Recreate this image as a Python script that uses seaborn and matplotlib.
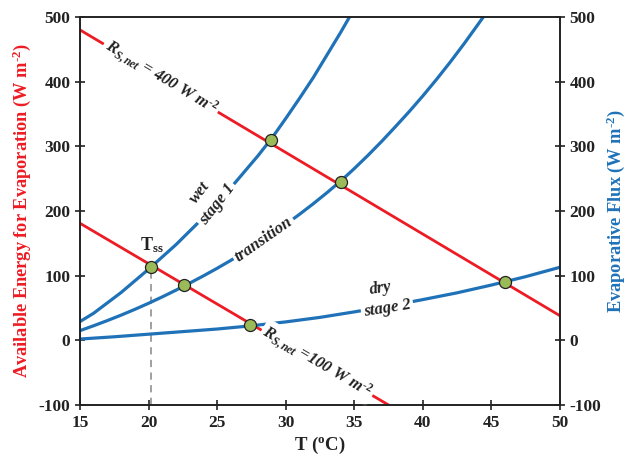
import numpy as np
import pandas as pd
import matplotlib
matplotlib.use("Agg")
import matplotlib.pyplot as plt
import seaborn as sns

# ---------------- data ----------------
wet_T = [15, 16, 17, 18, 19, 20, 21, 22, 23, 24, 25, 26, 27, 28, 29, 30, 31,
         32, 33, 34, 34.65]
wet_E = [29, 42, 58, 74, 92, 110, 129, 148, 169, 190, 213, 236, 261, 286,
         313, 343, 374, 406, 441, 476, 500]

trans_T = [15, 16, 17, 18, 19, 20, 21, 22, 23, 24, 25, 26, 27, 28, 29, 30,
           31, 32, 33, 34, 35, 36, 37, 38, 39, 40, 41, 42, 43, 44, 44.5]
trans_E = [15, 22.6, 30.6, 39, 47.9, 57.3, 67.2, 77.6, 88.5, 99.7, 111.4,
           123.7, 136.6, 150.1, 164.3, 179.2, 194.8, 211.1, 228.2, 246.1,
           265.6, 286.1, 307.7, 330.4, 353.6, 378, 403.6, 430.4, 458.5,
           487.9, 502.7]

dry_T = [15, 17.5, 20, 22.5, 25, 27.5, 30, 32.5, 35, 37.5, 40, 42.5, 45,
         47.5, 50]
dry_E = [2, 5.5, 9.5, 13.5, 17.5, 22.5, 28.5, 35.5, 44, 53, 63, 73.5, 85.5,
         98.5, 113]

r400_T = [15.0, 50.0]
r400_E = [480, 38]
r100_T = [15.0, 37.5]
r100_E = [181, -100]

eq_T = [20.2, 22.6, 27.4, 28.9, 34.0, 46.0]
eq_E = [113, 85, 23, 310, 245, 90]

tss = 20.2
tss_E = 113

xticks = [15, 20, 25, 30, 35, 40, 45, 50]
yticks = [-100, 0, 100, 200, 300, 400, 500]

# ---------------- style ----------------
sns.set_style("ticks")
plt.rcParams["font.family"] = ["Liberation Serif", "DejaVu Serif"]
plt.rcParams["font.weight"] = "bold"
plt.rcParams["axes.unicode_minus"] = False
plt.rcParams["mathtext.fontset"] = "custom"
plt.rcParams["mathtext.rm"] = "Liberation Serif:bold"
plt.rcParams["mathtext.bf"] = "Liberation Serif:bold"
plt.rcParams["mathtext.it"] = "Liberation Serif:bold:italic"

RED = "#ED1C24"
BLUE = "#1F72B8"
GREEN = "#9BBB59"
INK = "#222222"

fig = plt.figure(figsize=(6.31, 4.57), dpi=100)
ax = fig.add_axes([80 / 631, 1 - 405 / 457, 480 / 631, 388 / 457])

def line(x, y, color, lw, z=2, **kw):
    df = pd.DataFrame({"x": x, "y": y})
    sns.lineplot(data=df, x="x", y="y", ax=ax, color=color, lw=lw,
                 sort=False, estimator=None, zorder=z, **kw)

# dashed T_ss line
line([tss, tss], [-100, tss_E], "#999999", 1.3, z=1, linestyle=(0, (4, 3)))
line(r400_T, r400_E, RED, 2.0)
line(r100_T, r100_E, RED, 2.0)
line(wet_T, wet_E, BLUE, 2.3)
line(trans_T, trans_E, BLUE, 2.3)
line(dry_T, dry_E, BLUE, 2.3)

sns.scatterplot(x=eq_T, y=eq_E, ax=ax, color=GREEN, edgecolor=INK,
                linewidth=0.9, s=75, zorder=6)

ax.set_xlim(15, 50)
ax.set_ylim(-100, 500)
ax.set_xticks(xticks)
ax.set_yticks(yticks)
ax.tick_params(direction="inout", length=7, width=1.2, labelsize=12.5,
               colors=INK, labelcolor=INK)
for lab in ax.get_xticklabels() + ax.get_yticklabels():
    lab.set_fontweight("bold")
for s in ax.spines.values():
    s.set_linewidth(1.2)
    s.set_color(INK)
    s.set_visible(True)

ax.set_xlabel("T ($^{\\mathrm{o}}$C)", fontsize=13.5, fontweight="bold",
              color=INK, labelpad=3)
ax.set_ylabel("Available Energy for Evaporation (W m$^{\\text{-}2}$)",
              fontsize=13.2, fontweight="bold", color=RED, labelpad=4)

ax2 = ax.twinx()
ax2.set_ylim(-100, 500)
ax2.set_yticks(yticks)
ax2.tick_params(direction="inout", length=7, width=1.2, labelsize=12.5,
                colors=INK, labelcolor=INK)
for lab in ax2.get_yticklabels():
    lab.set_fontweight("bold")
for s in ax2.spines.values():
    s.set_linewidth(1.2)
    s.set_color(INK)
ax2.set_ylabel("Evaporative Flux (W m$^{\\text{-}2}$)", fontsize=13.2,
               fontweight="bold", color=BLUE, labelpad=2)

bbox = dict(boxstyle="square,pad=0.15", fc="white", ec="none")

def label(x, y, s, rot, italic=True, size=12, box=True, z=4):
    ax.text(x, y, s, rotation=rot, rotation_mode="anchor", ha="center",
            va="center", fontsize=size, fontweight="bold",
            fontstyle="italic" if italic else "normal", color=INK,
            bbox=bbox if box else None, zorder=z)

label(20.9, 406, "$R_{S,net}$ = 400 W m$^{\\text{-}2}$", -31)
label(32.3, -34, "$R_{S,net}$ =100 W m$^{\\text{-}2}$", -30.5)
label(25.0, 210, "stage 1", 52)
label(23.75, 229, "wet", 52, box=False, z=5)
label(28.4, 156, "transition", 35)
label(36.9, 80, "dry", 9, box=False, z=5)
label(37.4, 49, "stage 2", 9)
label(20.25, 147, "T$_{\\mathrm{ss}}$", 0, italic=False, box=False, size=13)

fig.savefig("out.png", dpi=100)
